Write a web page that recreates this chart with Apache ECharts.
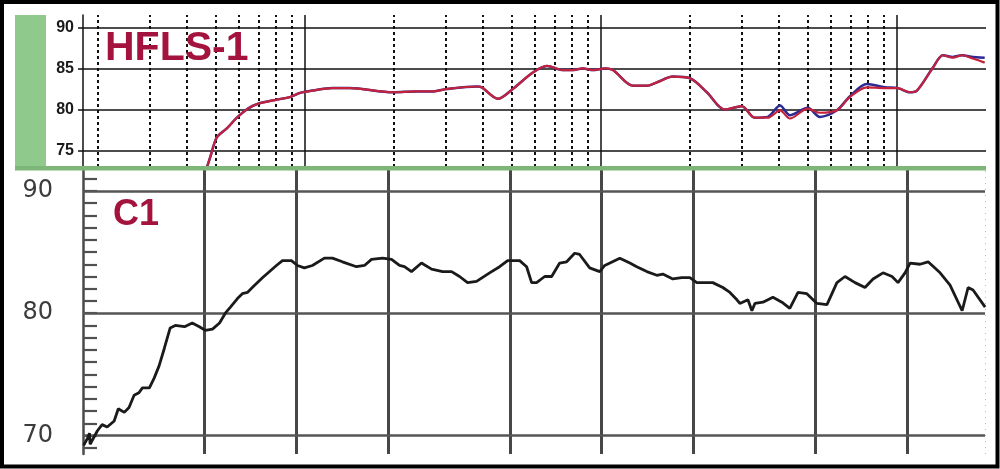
<!DOCTYPE html>
<html>
<head>
<meta charset="utf-8">
<style>
  html, body { margin: 0; padding: 0; background: #fff; }
  #chart { width: 1000px; height: 469px; }
</style>
<script src="https://cdn.jsdelivr.net/npm/echarts@6/dist/echarts.min.js"></script>
</head>
<body>
<div id="chart"></div>
<script>
// ---------- DATA ----------
// Top panel (HFLS-1): frequency (Hz) and level (dB)
const hflsHz    = [46.5, 47.8, 50.4, 54.5, 58.9, 64.2, 69.4, 80.4, 89, 96, 106, 124, 142, 198, 239, 271, 302, 381, 396, 449, 504, 589, 657, 745, 800, 869, 940, 1032, 1098, 1282, 1430, 1545, 1750, 2000, 2280, 2620, 2990, 3310, 3660, 4030, 4350, 5000, 5490, 6270, 6930, 7920, 9100, 10070, 11060, 11690, 13240, 14300, 15460, 16590, 18070, 19800];
const hflsRedDb = [72.8, 74.1, 76.6, 77.7, 79.0, 80.1, 80.7, 81.2, 81.5, 82.0, 82.3, 82.6, 82.6, 82.1, 82.2, 82.2, 82.5, 82.8, 82.7, 81.3, 82.5, 84.5, 85.3, 84.8, 84.8, 85.0, 84.8, 85.0, 84.8, 82.9, 82.9, 83.3, 84.0, 83.8, 82.1, 80.0, 80.4, 79.0, 79.0, 79.9, 78.9, 80.1, 79.6, 79.9, 81.5, 82.7, 82.6, 82.6, 82.1, 82.3, 85.1, 86.6, 86.3, 86.6, 86.2, 85.7];
const hflsBlueDb= [72.8, 74.1, 76.6, 77.7, 79.0, 80.1, 80.7, 81.2, 81.5, 82.0, 82.3, 82.6, 82.6, 82.1, 82.2, 82.2, 82.5, 82.8, 82.7, 81.3, 82.5, 84.5, 85.3, 84.8, 84.8, 85.0, 84.8, 85.0, 84.8, 82.9, 82.9, 83.3, 84.0, 83.8, 82.1, 80.0, 80.4, 79.0, 79.1, 80.5, 79.3, 80.2, 79.1, 79.9, 81.6, 83.1, 82.7, 82.6, 82.1, 82.3, 85.1, 86.6, 86.4, 86.6, 86.4, 86.3];

// Bottom panel (C1)
const c1Hz = [20.1, 20.7, 21.0, 21.1, 22.3, 23.1, 24.0, 25.3, 26.1, 27.3, 28.3, 29.4, 30.5, 31.3, 33.0, 34.2, 35.5, 36.9, 38.6, 40.1, 43.0, 45.6, 48.1, 50.3, 53.1, 56.0, 58.5, 60.8, 64.1, 66.5, 69.1, 71.7, 77.4, 86.0, 90.0, 96.3, 100.8, 106.2, 112.8, 123.5, 131.2, 141.5, 157.3, 167.1, 176.2, 191.4, 204.9, 217.6, 225.9, 238.2, 256.8, 277.1, 301.2, 322.3, 342.3, 363.5, 389.0, 429.3, 462.9, 491.9, 538.5, 567.5, 589.3, 611.8, 650.3, 685.5, 728.1, 767.7, 815.2, 846.4, 913.0, 984.7, 1023, 1146, 1236, 1302, 1405, 1515, 1585, 1709, 1829, 1944, 2048, 2143, 2311, 2492, 2629, 2772, 2834, 3012, 3103, 3174, 3373, 3636, 3891, 4130, 4393, 4697, 5069, 5467, 5892, 6263, 6754, 7281, 7738, 8342, 8929, 9339, 9850, 10230, 11030, 11720, 12830, 13830, 15150, 15850, 16450, 18020];
const c1Db = [69.2, 69.8, 70.2, 69.3, 70.4, 70.9, 70.7, 71.2, 72.2, 71.9, 72.3, 73.3, 73.5, 73.9, 73.9, 74.7, 75.7, 77.1, 78.8, 79.0, 78.9, 79.2, 78.9, 78.6, 78.7, 79.2, 80.0, 80.5, 81.2, 81.6, 81.7, 82.1, 82.9, 83.9, 84.3, 84.3, 83.9, 83.7, 83.9, 84.5, 84.5, 84.2, 83.8, 83.9, 84.4, 84.5, 84.4, 83.9, 83.8, 83.4, 84.1, 83.6, 83.4, 83.4, 83.0, 82.5, 82.6, 83.3, 83.8, 84.3, 84.3, 83.8, 82.5, 82.5, 83.0, 83.0, 84.1, 84.2, 84.9, 84.8, 83.7, 83.4, 83.9, 84.5, 84.1, 83.8, 83.4, 83.1, 83.2, 82.8, 82.9, 82.9, 82.5, 82.5, 82.5, 82.1, 81.7, 81.1, 80.8, 81.1, 80.2, 80.8, 80.9, 81.3, 80.9, 80.4, 81.7, 81.6, 80.8, 80.7, 82.5, 83.0, 82.5, 82.1, 82.8, 83.3, 83.0, 82.5, 83.3, 84.1, 84.0, 84.2, 83.3, 82.3, 80.2, 82.1, 81.9, 80.5];

// Grid / tick values
const topSolidHz  = [100, 1000, 10000];
const topDashedHz = [20, 30, 40, 50, 60, 70, 80, 90, 200, 300, 400, 500, 600, 700, 800, 900, 2000, 3000, 4000, 5000, 6000, 7000, 8000, 9000];
const topDbLines  = [75, 80, 85, 90];
const botHzLines  = [50, 100, 200, 500, 1000, 2000, 5000, 10000];
const botDbLines  = [70, 80, 90];
const botDbTicks  = [69, 70, 71, 72, 73, 74, 75, 76, 77, 78, 79, 80, 81, 82, 83, 84, 85, 86, 87, 88, 89, 90, 91];
const titles = ['HFLS-1', 'C1'];

// ---------- CHART ----------
const zip = (xs, ys) => xs.map((x, i) => [x, ys[i]]);
const chart = echarts.init(document.getElementById('chart'), null, { renderer: 'canvas' });

const topMarks = [
  ...topSolidHz.map(v => ({ xAxis: v, lineStyle: { type: 'solid', color: '#111', width: 1.5 } })),
  ...topDashedHz.map(v => ({ xAxis: v, lineStyle: { type: [3, 3], color: '#111', width: 2 } })),
  ...topDbLines.map(v => ({ yAxis: v, lineStyle: { type: 'solid', color: '#111', width: 1.5 } }))
];
const botMarks = [
  ...botHzLines.map(v => ({ xAxis: v, lineStyle: { type: 'solid', color: '#474747', width: 3 } })),
  ...botDbLines.map(v => ({ yAxis: v, lineStyle: { type: 'solid', color: '#555', width: 2.5 } })),
  { xAxis: 18000, lineStyle: { type: [1, 5], color: '#bbb', width: 1 } }
];

const option = {
  animation: false,
  backgroundColor: '#fff',
  grid: [
    { left: 83, right: 14, top: 15, height: 152 },
    { left: 83, right: 15, top: 170, height: 284 }
  ],
  xAxis: [
    { type: 'log', gridIndex: 0, logBase: 10, min: 17.8, max: 20000,
      axisLine: { show: false }, axisTick: { show: false }, axisLabel: { show: false }, splitLine: { show: false } },
    { type: 'log', gridIndex: 1, logBase: 10, min: 20, max: 18000,
      axisLine: { show: false }, axisTick: { show: false }, axisLabel: { show: false }, splitLine: { show: false } }
  ],
  yAxis: [
    { type: 'value', gridIndex: 0, min: 73, max: 91.5,
      axisLine: { show: true, lineStyle: { color: '#111', width: 1.5 } },
      axisTick: { show: true, customValues: topDbLines, length: 5, inside: false, lineStyle: { color: '#111', width: 1.5 } },
      axisLabel: { show: true, customValues: topDbLines, margin: 9, color: '#1a1a1a', fontSize: 16, fontWeight: 'bold', fontFamily: 'Liberation Sans, Arial, sans-serif' },
      splitLine: { show: false } },
    { type: 'value', gridIndex: 1, min: 68.5, max: 91.7,
      axisLine: { show: true, lineStyle: { color: '#4a4a4a', width: 2.5 } },
      axisTick: { show: true, customValues: botDbTicks, length: 14, inside: true, lineStyle: { color: '#505050', width: 2.2 } },
      axisLabel: { show: true, customValues: botDbLines, margin: 30, color: '#3c3c3c', fontSize: 24, fontFamily: 'DejaVu Sans, Verdana, sans-serif' },
      splitLine: { show: false } }
  ],
  series: [
    { type: 'line', name: 'HFLS-1 blue', xAxisIndex: 0, yAxisIndex: 0, data: zip(hflsHz, hflsBlueDb),
      showSymbol: false, symbol: 'none', smooth: 0.3, z: 10, lineStyle: { color: '#2a2a92', width: 2.5 }, silent: true },
    { type: 'line', name: 'HFLS-1 red', xAxisIndex: 0, yAxisIndex: 0, data: zip(hflsHz, hflsRedDb),
      showSymbol: false, symbol: 'none', smooth: 0.3, z: 11, lineStyle: { color: '#c4223c', width: 2.2 }, silent: true,
      markLine: { symbol: 'none', silent: true, animation: false, label: { show: false }, emphasis: { disabled: true }, data: topMarks } },
    { type: 'line', name: 'C1', xAxisIndex: 1, yAxisIndex: 1, data: zip(c1Hz, c1Db),
      showSymbol: false, symbol: 'none', z: 10, lineStyle: { color: '#1a1a1a', width: 2.8 }, silent: true,
      markLine: { symbol: 'none', silent: true, animation: false, label: { show: false }, emphasis: { disabled: true }, data: botMarks } }
  ],
  graphic: [
    { type: 'rect', z: 100, shape: { x: 15, y: 15, width: 31, height: 152 }, style: { fill: '#8fc98b' }, silent: true },
    { type: 'rect', z: 100, shape: { x: 15, y: 166, width: 971, height: 4.5 }, style: { fill: '#7db678' }, silent: true },
    { type: 'text', z: 100, x: 105, y: 49, style: { text: titles[0], fill: '#a3133d', font: 'bold 41px "Liberation Sans", Arial, sans-serif', textVerticalAlign: 'middle' }, silent: true },
    { type: 'text', z: 100, x: 113, y: 215, style: { text: titles[1], fill: '#a3133d', font: 'bold 36px "Liberation Sans", Arial, sans-serif', textVerticalAlign: 'middle' }, silent: true },
    { type: 'rect', z: 200, shape: { x: 2, y: 2, width: 995.5, height: 464.5 }, style: { fill: 'none', stroke: '#000', lineWidth: 4 }, silent: true }
  ]
};
chart.setOption(option);
</script>
</body>
</html>
